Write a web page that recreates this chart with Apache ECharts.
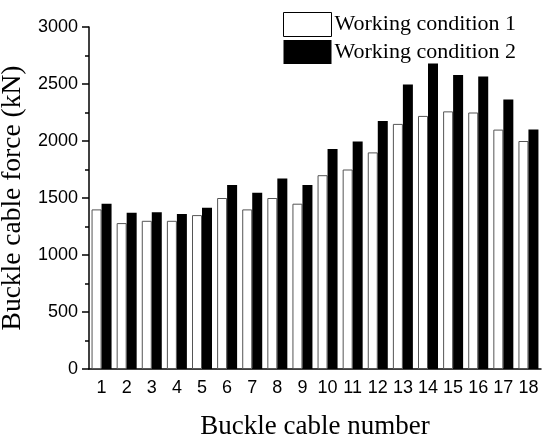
<!DOCTYPE html>
<html lang="en">
<head>
    <meta charset="UTF-8">
    <title>Buckle cable force</title>
</head>
<body style="margin:0;">
    <div id="main" style="width: 550px;height:442px;"></div>
    <script src="https://cdn.jsdelivr.net/npm/echarts@6/dist/echarts.min.js"></script>
    <script>

var cables = ['1','2','3','4','5','6','7','8','9','10','11','12','13','14','15','16','17','18'];
// 工况1 / 工况2 (kN)
var condition1 = [1400,1280,1300,1300,1350,1500,1400,1500,1450,1700,1750,1900,2150,2220,2260,2250,2100,2000];
var condition2 = [1450,1370,1375,1360,1415,1615,1545,1670,1615,1930,1995,2175,2495,2680,2580,2565,2365,2100];
var seriesNames = ['Working condition 1', 'Working condition 2'];

var serif = 'Liberation Serif';
var sans = 'Liberation Sans';

var option = {
    animation: false,
    grid: {
        left: 89,
        right: 9,
        top: 27,
        bottom: 73,
        outerBoundsMode: 'none'
    },
    legend: {
        orient: 'vertical',
        left: 278,
        top: 7,
        itemWidth: 48,
        itemHeight: 24,
        itemGap: 3,
        icon: 'rect',
        textStyle: {
            fontFamily: serif,
            fontSize: 22,
            color: '#000',
            padding: [0, 0, 0, -2]
        },
        data: [
            {name: seriesNames[0], itemStyle: {color: '#fff', borderColor: '#000', borderWidth: 1}},
            {name: seriesNames[1], itemStyle: {color: '#000'}}
        ]
    },
    xAxis: [
        {
            type: 'category',
            data: cables,
            name: 'Buckle cable number',
            nameLocation: 'middle',
            nameGap: 44,
            nameTextStyle: {fontFamily: serif, fontSize: 27, color: '#000'},
            axisLine: {lineStyle: {color: '#000', width: 1.5}},
            axisTick: {alignWithLabel: true, length: 7, lineStyle: {color: '#000', width: 1.5}},
            axisLabel: {fontFamily: sans, fontSize: 18, color: '#000', margin: 10, interval: 0},
            splitLine: {show: false}
        },
        {
            // 分隔处的短刻度
            type: 'category',
            data: cables,
            position: 'bottom',
            axisLine: {show: false},
            axisTick: {length: 4, lineStyle: {color: '#000', width: 1.5}},
            axisLabel: {show: false},
            splitLine: {show: false}
        }
    ],
    yAxis: {
        type: 'value',
        min: 0,
        max: 3000,
        interval: 500,
        name: 'Buckle cable force (kN)',
        nameLocation: 'middle',
        nameGap: 52,
        nameTextStyle: {fontFamily: serif, fontSize: 27.5, color: '#000'},
        axisLine: {show: true, lineStyle: {color: '#000', width: 1.5}},
        axisTick: {show: true, length: 7, lineStyle: {color: '#000', width: 1.5}},
        minorTick: {show: true, splitNumber: 2, length: 4, lineStyle: {color: '#000', width: 1.5}},
        axisLabel: {
            fontFamily: sans,
            fontSize: 18,
            color: '#000',
            margin: 11,
            formatter: function (v) { return String(v); }
        },
        splitLine: {show: false}
    },
    series: [
        {
            name: seriesNames[0],
            type: 'bar',
            data: condition1,
            barWidth: 10,
            barGap: '0%',
            itemStyle: {color: '#fff', borderColor: '#555', borderWidth: 1}
        },
        {
            name: seriesNames[1],
            type: 'bar',
            data: condition2,
            barWidth: 10,
            barGap: '0%',
            itemStyle: {color: '#000'}
        }
    ]
};

var myChart = echarts.init(document.getElementById('main'));
myChart.setOption(option);

    </script>
</body>
</html>
